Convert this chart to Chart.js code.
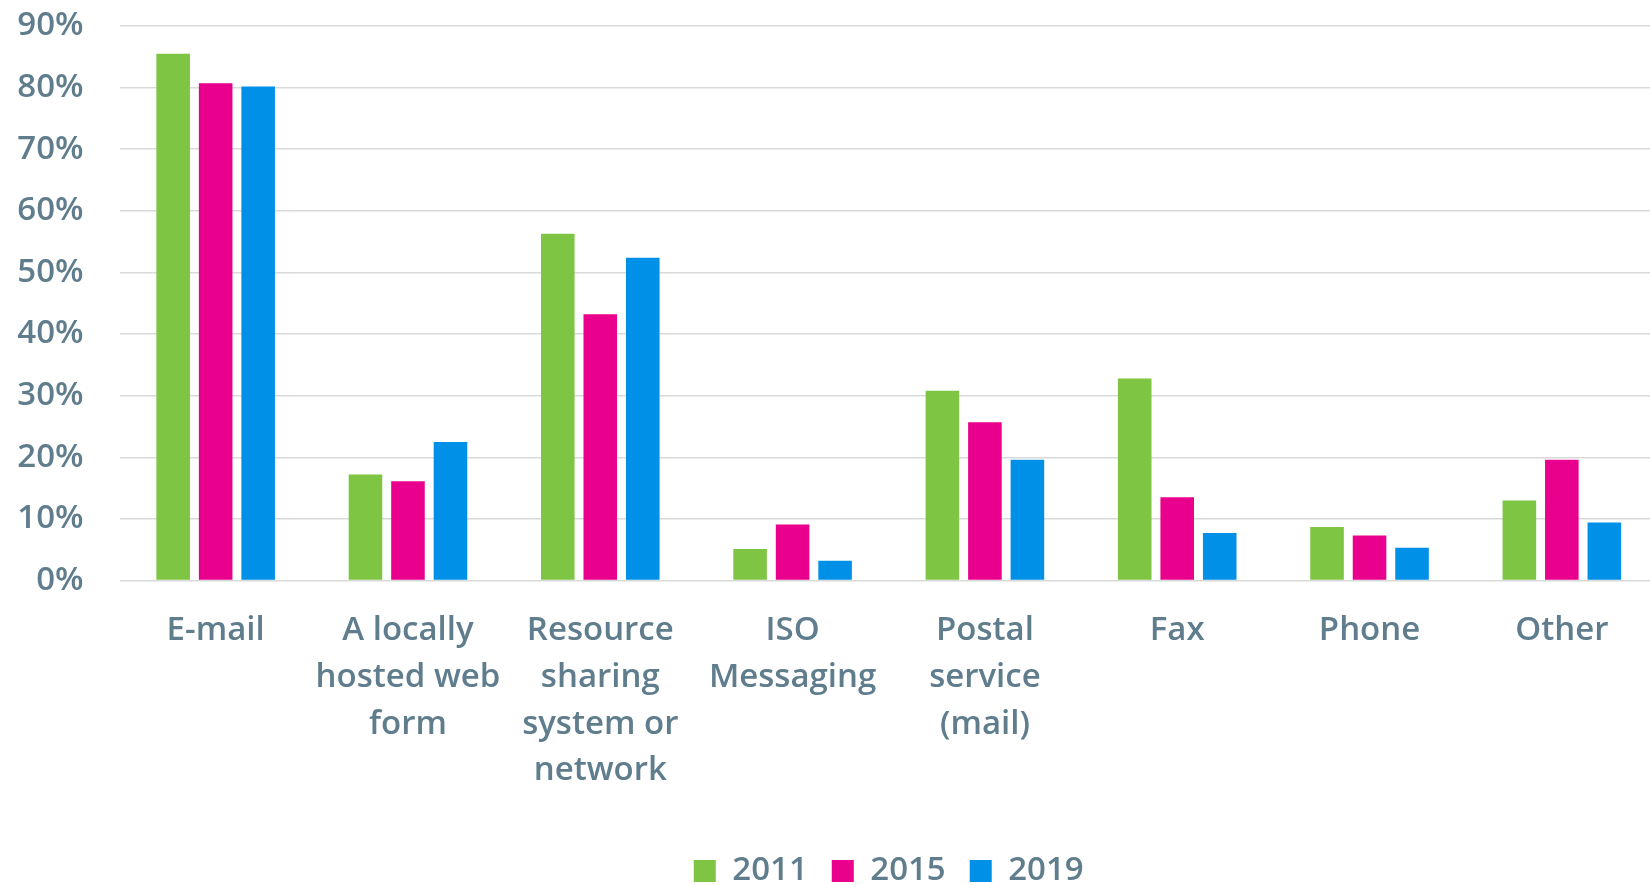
<!DOCTYPE html>
<html>
<head>
<meta charset="utf-8">
<script src="https://cdn.jsdelivr.net/npm/chart.js@4"></script>
<style>
  html, body { margin: 0; padding: 0; background: #ffffff; overflow: hidden; }
  #wrap { position: relative; width: 1658px; height: 885px; }
</style>
</head>
<body>
<div id="wrap"><canvas id="c"></canvas></div>
<script>
const categories = [
  "E-mail",
  ["A locally", "hosted web", "form"],
  ["Resource", "sharing", "system or", "network"],
  ["ISO", "Messaging"],
  ["Postal", "service", "(mail)"],
  "Fax",
  "Phone",
  "Other"
];
const seriesNames = ["2011", "2015", "2019"];
const values2011 = [85.5, 17.2, 56.3, 5.1, 30.8, 32.8, 8.7, 13.0];
const values2015 = [80.7, 16.1, 43.2, 9.1, 25.7, 13.5, 7.3, 19.6];
const values2019 = [80.2, 22.5, 52.4, 3.2, 19.6, 7.7, 5.3, 9.4];
const yTicks = [0, 10, 20, 30, 40, 50, 60, 70, 80, 90];

const colors = ["#7dc542", "#e9008c", "#0090e8"];
const textColor = "#5f7d8c";
const font = { family: "'Open Sans', sans-serif", size: 33, weight: "600", lineHeight: 1.415 };

const data = {
  labels: categories,
  datasets: [values2011, values2015, values2019].map((vals, i) => ({
    label: seriesNames[i],
    data: vals,
    backgroundColor: colors[i],
    borderWidth: 0,
    categoryPercentage: 0.663,
    barPercentage: 0.79
  }))
};

new Chart(document.getElementById("c"), {
  type: "bar",
  data,
  options: {
    responsive: true,
    maintainAspectRatio: false,
    animation: false,
    layout: { padding: { left: 15, right: 0, top: 26, bottom: -12.5 } },
    plugins: {
      tooltip: { enabled: false },
      legend: {
        position: "bottom",
        fullSize: false,
        labels: {
          boxWidth: 22,
          boxHeight: 22,
          padding: 24,
          color: textColor,
          font: font
        }
      }
    },
    scales: {
      x: {
        grid: { display: false },
        border: { display: false },
        ticks: {
          color: textColor,
          font: font,
          padding: 19,
          maxRotation: 0,
          autoSkip: false
        },
        afterFit: (s) => { s.height = 250; s.paddingLeft = 0; s.paddingRight = 0; }
      },
      y: {
        min: 0,
        max: 90,
        afterBuildTicks: (axis) => { axis.ticks = yTicks.map(v => ({ value: v })); },
        grid: { color: "#d9d9d9", lineWidth: 1.5, drawTicks: false },
        border: { display: false },
        ticks: {
          color: textColor,
          font: font,
          padding: 36,
          callback: (v) => v + "%"
        },
        afterFit: (s) => { s.width = 104.5; s.paddingTop = 0; s.paddingBottom = 0; }
      }
    }
  }
});
</script>
</body>
</html>
